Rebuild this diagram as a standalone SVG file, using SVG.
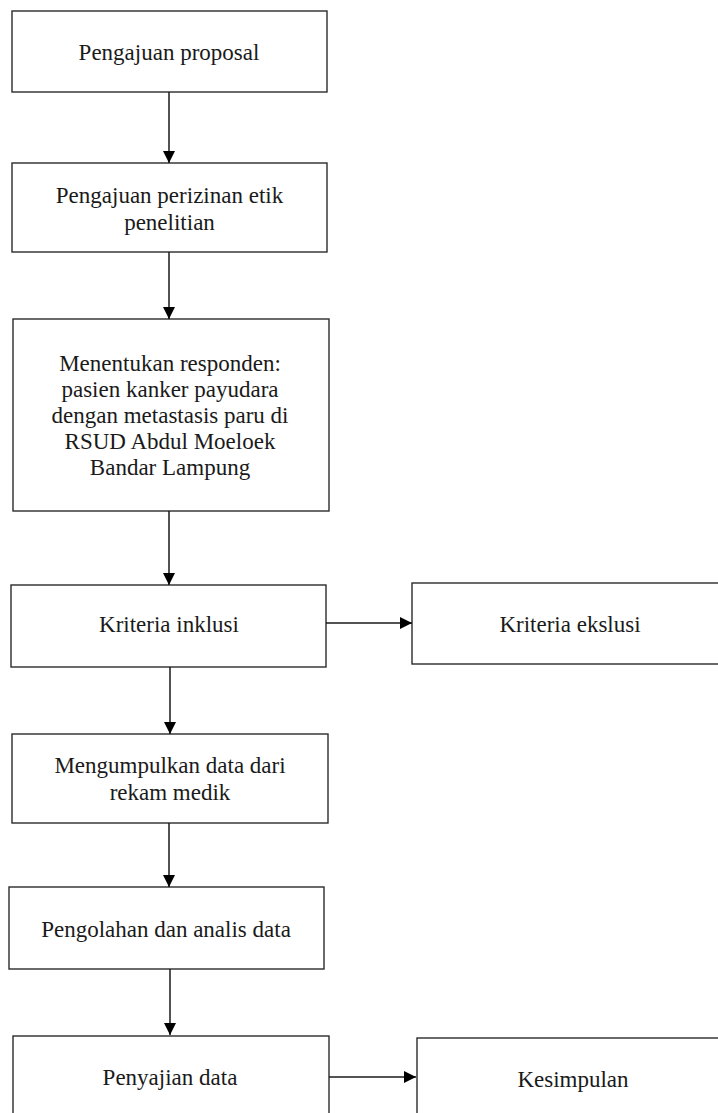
<svg xmlns="http://www.w3.org/2000/svg" width="718" height="1113" viewBox="0 0 718 1113">
  <style>
    .box { fill: #ffffff; stroke: #2b2b2b; stroke-width: 1.4; }
    .lbl { font-size: 23px; fill: #1a1a1a; text-anchor: middle; }
    .conn { stroke: #1a1a1a; stroke-width: 1.5; fill: none; marker-end: url(#arrow); }
  </style>
  <defs>
    <marker id="arrow" viewBox="0 0 12 12" refX="12" refY="6" markerWidth="12" markerHeight="12" markerUnits="userSpaceOnUse" orient="auto">
      <path d="M0,0 L12,6 L0,12 z" fill="#000000"/>
    </marker>
  </defs>
  <rect width="718" height="1113" fill="#ffffff"/>

  <g font-family="Liberation Serif, Times New Roman, DejaVu Serif, serif">
  <g id="n1">
    <rect class="box" x="12" y="11" width="315" height="81"/>
    <text class="lbl" x="169" y="60">Pengajuan proposal</text>
  </g>
  <g id="n2">
    <rect class="box" x="12" y="163" width="315" height="89"/>
    <text class="lbl" x="169.5" y="203">Pengajuan perizinan etik</text>
    <text class="lbl" x="169.5" y="230">penelitian</text>
  </g>
  <g id="n3">
    <rect class="box" x="13" y="319" width="316" height="192"/>
    <text class="lbl" x="170" y="371">Menentukan responden:</text>
    <text class="lbl" x="170" y="397">pasien kanker payudara</text>
    <text class="lbl" x="170" y="423">dengan metastasis paru di</text>
    <text class="lbl" x="170" y="449">RSUD Abdul Moeloek</text>
    <text class="lbl" x="170" y="475">Bandar Lampung</text>
  </g>
  <g id="n4">
    <rect class="box" x="11" y="585" width="315" height="82"/>
    <text class="lbl" x="169" y="632">Kriteria inklusi</text>
  </g>
  <g id="n5">
    <rect class="box" x="412" y="583" width="312" height="81"/>
    <text class="lbl" x="570" y="632">Kriteria ekslusi</text>
  </g>
  <g id="n6">
    <rect class="box" x="12" y="734" width="316" height="89"/>
    <text class="lbl" x="170" y="773">Mengumpulkan data dari</text>
    <text class="lbl" x="170" y="800">rekam medik</text>
  </g>
  <g id="n7">
    <rect class="box" x="9" y="887" width="315" height="82"/>
    <text class="lbl" x="166" y="937">Pengolahan dan analis data</text>
  </g>
  <g id="n8">
    <rect class="box" x="13" y="1036" width="316" height="90"/>
    <text class="lbl" x="170" y="1085">Penyajian data</text>
  </g>
  <g id="n9">
    <rect class="box" x="417" y="1038" width="310" height="90"/>
    <text class="lbl" x="573" y="1087">Kesimpulan</text>
  </g>
  </g>

  <g id="connectors">
    <line class="conn" x1="169" y1="92" x2="169" y2="163"/>
    <line class="conn" x1="169" y1="252" x2="169" y2="319"/>
    <line class="conn" x1="169" y1="511" x2="169" y2="585"/>
    <line class="conn" x1="326" y1="623" x2="412" y2="623"/>
    <line class="conn" x1="170" y1="667" x2="170" y2="734"/>
    <line class="conn" x1="169" y1="823" x2="169" y2="887"/>
    <line class="conn" x1="170" y1="969" x2="170" y2="1035"/>
    <line class="conn" x1="329" y1="1077" x2="416" y2="1077"/>
  </g>
</svg>
